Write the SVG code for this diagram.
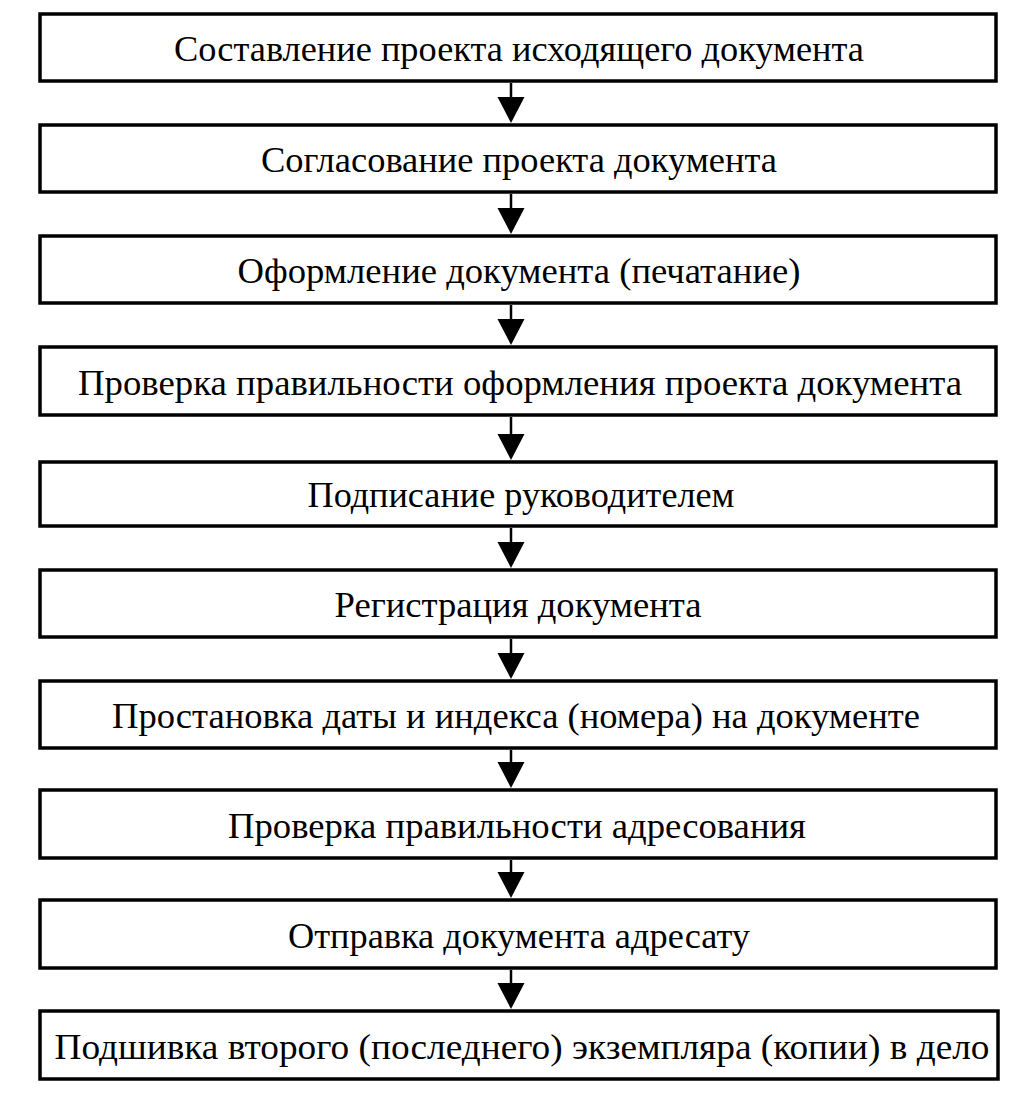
<svg xmlns="http://www.w3.org/2000/svg" width="1034" height="1111" viewBox="0 0 1034 1111">
<style>
.box{fill:#fff;stroke:#000;stroke-width:3.5}
.t{font-family:"Liberation Serif","Times New Roman",serif;font-size:36px;fill:#000;text-anchor:middle}
.c{stroke:#000;stroke-width:2.5;fill:none}
</style>
<rect width="1034" height="1111" fill="#fff"/>
<g id="n1"><rect class="box" x="40" y="14" width="956" height="67"/><text class="t" x="519" y="61" textLength="690" lengthAdjust="spacingAndGlyphs">Составление проекта исходящего документа</text></g>
<g id="n2"><rect class="box" x="40" y="125" width="956" height="67"/><text class="t" x="519" y="172" textLength="516" lengthAdjust="spacingAndGlyphs">Согласование проекта документа</text></g>
<g id="n3"><rect class="box" x="40" y="236" width="956" height="67"/><text class="t" x="519" y="283" textLength="563" lengthAdjust="spacingAndGlyphs">Оформление документа (печатание)</text></g>
<g id="n4"><rect class="box" x="40" y="347" width="956" height="68"/><text class="t" x="520" y="395" textLength="884" lengthAdjust="spacingAndGlyphs">Проверка правильности оформления проекта документа</text></g>
<g id="n5"><rect class="box" x="40" y="462" width="956" height="64"/><text class="t" x="521" y="507" textLength="427" lengthAdjust="spacingAndGlyphs">Подписание руководителем</text></g>
<g id="n6"><rect class="box" x="40" y="570" width="956" height="67"/><text class="t" x="518" y="617" textLength="367" lengthAdjust="spacingAndGlyphs">Регистрация документа</text></g>
<g id="n7"><rect class="box" x="40" y="681" width="956" height="67"/><text class="t" x="516" y="728" textLength="808" lengthAdjust="spacingAndGlyphs">Простановка даты и индекса (номера) на документе</text></g>
<g id="n8"><rect class="box" x="40" y="790" width="956" height="68"/><text class="t" x="517" y="838" textLength="578" lengthAdjust="spacingAndGlyphs">Проверка правильности адресования</text></g>
<g id="n9"><rect class="box" x="40" y="900" width="956" height="68"/><text class="t" x="519" y="948" textLength="462" lengthAdjust="spacingAndGlyphs">Отправка документа адресату</text></g>
<g id="n10"><rect class="box" x="40" y="1011" width="958" height="68"/><text class="t" x="522" y="1059" textLength="935" lengthAdjust="spacingAndGlyphs">Подшивка второго (последнего) экземпляра (копии) в дело</text></g>
<g id="connectors">
<g fill="#000">
<line class="c" x1="511" y1="83" x2="511" y2="99"/><path d="M497.5,97 L524.5,97 L511,123 Z"/>
<line class="c" x1="511" y1="194" x2="511" y2="210"/><path d="M497.5,208 L524.5,208 L511,234 Z"/>
<line class="c" x1="511" y1="305" x2="511" y2="321"/><path d="M497.5,319 L524.5,319 L511,345 Z"/>
<line class="c" x1="511" y1="417" x2="511" y2="436"/><path d="M497.5,434 L524.5,434 L511,460 Z"/>
<line class="c" x1="511" y1="528" x2="511" y2="544"/><path d="M497.5,542 L524.5,542 L511,568 Z"/>
<line class="c" x1="511" y1="639" x2="511" y2="655"/><path d="M497.5,653 L524.5,653 L511,679 Z"/>
<line class="c" x1="511" y1="750" x2="511" y2="764"/><path d="M497.5,762 L524.5,762 L511,788 Z"/>
<line class="c" x1="511" y1="860" x2="511" y2="874"/><path d="M497.5,872 L524.5,872 L511,898 Z"/>
<line class="c" x1="511" y1="970" x2="511" y2="985"/><path d="M497.5,983 L524.5,983 L511,1009 Z"/>
</g>
</g>
</svg>
